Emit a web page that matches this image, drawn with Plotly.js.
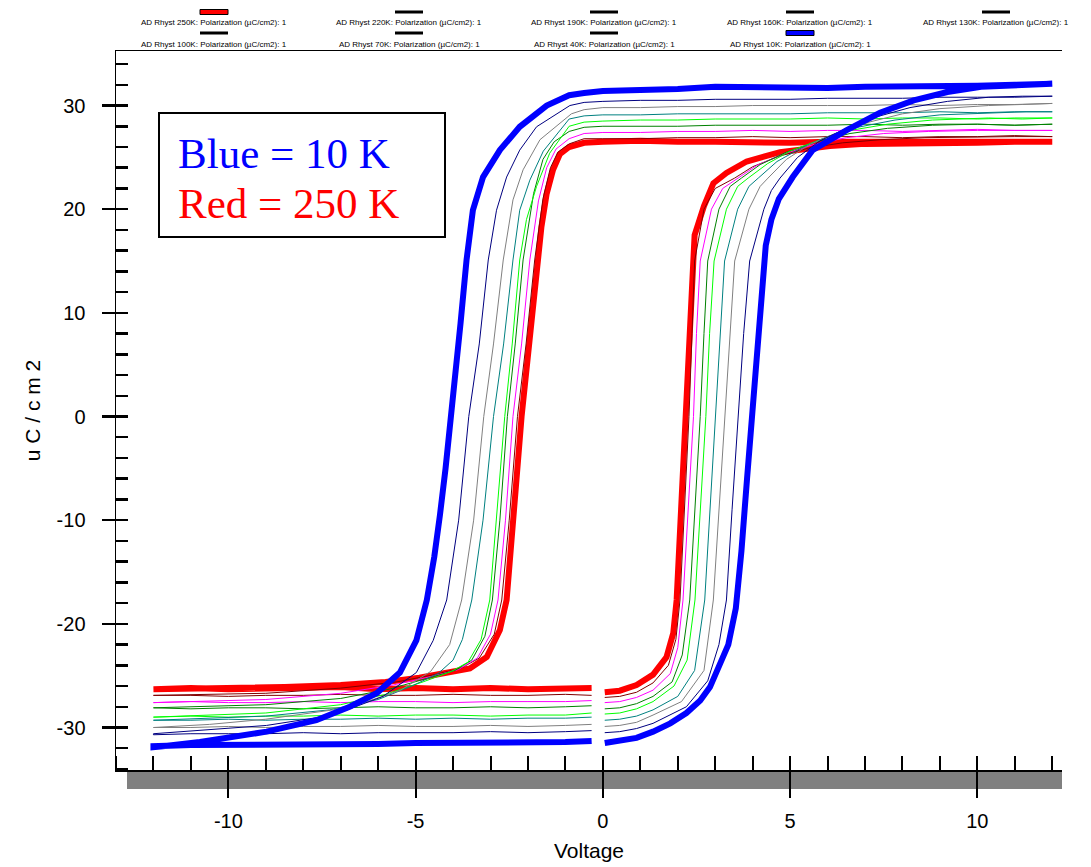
<!DOCTYPE html>
<html>
<head>
<meta charset="utf-8">
<script src="https://cdn.plot.ly/plotly-3.0.1.min.js"></script>
<style>html,body{margin:0;padding:0;background:#fff;}#chart{width:1091px;height:867px;}</style>
</head>
<body>
<div id="chart"></div>
<script>
// ---------------- DATA ----------------
const temperatures = ['250K','220K','190K','160K','130K','100K','70K','40K','10K'];
const seriesColors = ['#ff0000','#800000','#ff00ff','#008000','#00ff00','#008080','#808080','#000080','#0000ff'];
const legendLabels = temperatures.map(t => 'AD Rhyst ' + t + ': Polarization (\u00b5C/cm2): 1');

// tick labels (plain hyphen minus, as in the original)
const xTickVals = [-10, -5, 0, 5, 10];
const xTickText = ['-10', '-5', '0', '5', '10'];
const yTickVals = [-30, -20, -10, 0, 10, 20, 30];
const yTickText = ['-30', '-20', '-10', '0', '10', '20', '30'];

// common voltage grids of the flat return branches
const upV  = [12, 11, 10, 9, 8, 7, 6, 5, 4, 3, 2, 1, 0];
const lowV = [-12, -11, -10, -9, -8, -7, -6, -5, -4, -3, -2, -1, -0.3];

// 250 K
const rise250V = [0.05, 0.45, 0.9, 1.34, 1.7, 1.88, 1.97, 2.08, 2.2, 2.32, 2.45, 2.7, 2.95, 3.3, 3.84, 4.73, 5.5, 6.06, 7.0, 8.0, 9.0, 10.0, 11.0, 12.0];
const rise250P = [-26.6, -26.45, -25.9, -24.9, -23.2, -20.9, -17.7, -9, 0, 9, 17.5, 20.3, 22.5, 23.5, 24.6, 25.5, 25.8, 26.1, 26.3, 26.3, 26.4, 26.4, 26.5, 26.5];
const up250P   = [26.5, 26.6, 26.5, 26.6, 26.5, 26.6, 26.5, 26.4, 26.5, 26.5, 26.5, 26.6, 26.5];
const fall250V = [-0.5, -0.9, -1.15, -1.33, -1.5, -1.64, -1.73, -1.95, -2.17, -2.35, -2.5, -2.57, -2.75, -3.1, -3.55, -4.3, -4.9, -5.8, -7.0, -8.5, -10, -12];
const fall250P = [26.4, 26.0, 25.3, 23.8, 21.5, 18.3, 15.1, 7, 0, -8, -14, -17.7, -20.6, -23.2, -24.3, -24.8, -25.2, -25.6, -25.9, -26.1, -26.2, -26.3];
const low250P  = [-26.3, -26.2, -26.3, -26.2, -26.2, -26.1, -26.3, -26.2, -26.3, -26.2, -26.3, -26.3, -26.2];

// 220 K
const rise220V = [0.05, 0.45, 0.9, 1.34, 1.75, 1.95, 2.06, 2.18, 2.3, 2.38, 2.45, 2.7, 3.0, 3.52, 4.0, 4.7, 5.5, 6.4, 7.4, 8.6, 10.0, 11.0, 12.0];
const rise220P = [-27.1, -27.0, -26.6, -25.7, -24.0, -21.5, -17.7, -9, 0, 8, 15, 20, 22.0, 23.0, 24.1, 25.1, 25.9, 26.4, 26.7, 26.9, 27.0, 27.0, 27.0];
const up220P   = [27.0, 27.1, 27.0, 27.0, 26.9, 27.0, 27.0, 26.9, 27.0, 26.9, 26.9, 26.8, 26.8];
const fall220V = [-0.5, -0.9, -1.2, -1.4, -1.6, -1.82, -2.05, -2.28, -2.5, -2.7, -2.9, -3.3, -3.8, -4.5, -5.5, -7, -9, -12];
const fall220P = [26.8, 26.3, 25.5, 24.0, 21.0, 15.1, 7, 0, -10, -17.7, -21.0, -23.3, -24.3, -24.9, -25.6, -26.2, -26.7, -26.9];
const low220P  = [-26.9, -26.9, -27.0, -26.9, -26.9, -26.8, -26.9, -26.9, -26.8, -26.9, -26.9, -26.8, -26.9];

// 190 K
const rise190V = [0.05, 0.45, 0.9, 1.34, 1.8, 2.0, 2.14, 2.28, 2.42, 2.5, 2.6, 2.9, 3.2, 3.61, 4.1, 4.8, 5.6, 6.5, 7.5, 8.7, 10.0, 11.0, 12.0];
const rise190P = [-27.6, -27.5, -27.1, -26.4, -24.8, -22.3, -17.7, -9, 0, 8, 15, 20, 22.0, 23.0, 24.2, 25.3, 26.2, 26.9, 27.3, 27.5, 27.6, 27.6, 27.6];
const up190P   = [27.6, 27.6, 27.7, 27.6, 27.5, 27.6, 27.6, 27.5, 27.6, 27.5, 27.5, 27.4, 27.4];
const fall190V = [-0.5, -0.9, -1.25, -1.5, -1.72, -1.95, -2.17, -2.4, -2.6, -2.8, -3.0, -3.35, -3.85, -4.6, -5.6, -7, -9, -12];
const fall190P = [27.3, 26.8, 25.8, 24.0, 20.8, 15.1, 7, 0, -10, -17.7, -21.0, -23.3, -24.4, -25.1, -25.9, -26.7, -27.3, -27.6];
const low190P  = [-27.6, -27.5, -27.6, -27.6, -27.5, -27.6, -27.5, -27.5, -27.6, -27.5, -27.5, -27.5, -27.4];

// 160 K
const rise160V = [0.05, 0.45, 0.9, 1.34, 1.85, 2.12, 2.32, 2.46, 2.6, 2.7, 2.8, 3.1, 3.4, 3.7, 4.2, 4.9, 5.7, 6.6, 7.6, 8.8, 10.0, 11.0, 12.0];
const rise160P = [-28.2, -28.1, -27.7, -27.0, -25.6, -23.0, -17.7, -9, 0, 8, 15, 20, 22.2, 23.0, 24.3, 25.5, 26.5, 27.3, 27.8, 28.1, 28.2, 28.1, 28.2];
const up160P   = [28.2, 28.1, 28.2, 28.2, 28.1, 28.2, 28.1, 28.1, 28.1, 28.1, 28.0, 28.0, 28.0];
const fall160V = [-0.5, -0.9, -1.3, -1.6, -1.85, -2.13, -2.34, -2.55, -2.75, -2.95, -3.15, -3.5, -3.95, -4.7, -5.7, -7, -9, -12];
const fall160P = [27.9, 27.5, 26.5, 24.8, 21.5, 15.1, 7, 0, -10, -17.7, -21.2, -23.5, -24.5, -25.3, -26.3, -27.2, -27.8, -28.1];
const low160P  = [-28.1, -28.2, -28.1, -28.1, -28.2, -28.1, -28.0, -28.1, -28.1, -28.0, -28.1, -28.0, -27.9];

// 130 K
const rise130V = [0.05, 0.45, 0.9, 1.34, 1.9, 2.25, 2.46, 2.6, 2.75, 2.85, 2.97, 3.3, 3.6, 3.88, 4.4, 5.0, 5.8, 6.6, 7.6, 8.8, 10.3, 11.2, 12.0];
const rise130P = [-28.7, -28.6, -28.2, -27.5, -26.0, -23.5, -17.7, -9, 0, 8, 15, 20, 22.2, 23.0, 24.4, 25.6, 26.7, 27.6, 28.2, 28.6, 28.8, 28.7, 28.8];
const up130P   = [28.8, 28.8, 28.7, 28.8, 28.8, 28.7, 28.8, 28.7, 28.7, 28.7, 28.6, 28.6, 28.5];
const fall130V = [-0.5, -0.9, -1.42, -1.77, -2.04, -2.22, -2.42, -2.62, -2.85, -3.02, -3.25, -3.6, -4.05, -4.8, -5.8, -7, -9, -12];
const fall130P = [28.4, 28.0, 25.4, 22.2, 19.0, 15.1, 7, 0, -10, -17.7, -21.5, -23.7, -24.6, -25.6, -26.8, -27.8, -28.6, -29.0];
const low130P  = [-29.0, -28.9, -29.0, -28.9, -28.9, -28.8, -28.9, -28.8, -28.8, -28.9, -28.8, -28.8, -28.6];

// 100 K
const rise100V = [0.05, 0.45, 0.9, 1.34, 2.0, 2.45, 2.72, 2.86, 3.0, 3.12, 3.25, 3.6, 3.9, 4.15, 4.65, 5.3, 6.0, 6.8, 7.8, 9.0, 10.5, 11.3, 12.0];
const rise100P = [-29.3, -29.2, -28.9, -28.3, -27.0, -24.5, -17.7, -9, 0, 8, 15, 20, 22.2, 23.0, 24.6, 25.9, 27.0, 27.9, 28.6, 29.1, 29.3, 29.4, 29.4];
const up100P   = [29.4, 29.4, 29.3, 29.4, 29.3, 29.3, 29.3, 29.2, 29.2, 29.2, 29.2, 29.1, 29.1];
const fall100V = [-0.5, -0.9, -1.59, -1.95, -2.22, -2.4, -2.65, -2.92, -3.2, -3.5, -3.75, -4.0, -4.4, -5.1, -6.0, -7.3, -9, -12];
const fall100P = [29.0, 28.7, 25.6, 22.8, 19.9, 15.1, 7, 0, -10, -17.7, -21.5, -23.5, -24.8, -26.0, -27.3, -28.3, -28.9, -29.3];
const low100P  = [-29.3, -29.3, -29.2, -29.3, -29.2, -29.2, -29.1, -29.2, -29.1, -29.2, -29.1, -29.1, -29.0];

// 70 K
const rise70V = [0.05, 0.45, 0.9, 1.34, 2.1, 2.7, 2.95, 3.1, 3.25, 3.38, 3.52, 3.9, 4.2, 4.41, 4.9, 5.5, 6.2, 7.0, 8.0, 9.0, 10.3, 11.2, 12.0];
const rise70P = [-29.9, -29.8, -29.5, -28.8, -27.5, -24.5, -17.7, -9, 0, 8, 15, 20, 22.2, 23.0, 24.8, 26.2, 27.3, 28.3, 29.2, 29.7, 30.0, 30.1, 30.2];
const up70P   = [30.2, 30.1, 30.1, 30.0, 30.1, 30.0, 30.0, 30.0, 30.0, 29.9, 29.9, 29.8, 29.8];
const fall70V = [-0.5, -0.84, -1.68, -2.13, -2.4, -2.66, -2.92, -3.18, -3.45, -3.77, -4.09, -4.6, -5.4, -6.3, -7.2, -9, -10.5, -12];
const fall70P = [29.6, 29.2, 26.7, 23.8, 20.9, 15.1, 7, 0, -10, -17.7, -22.0, -24.6, -26.4, -27.5, -28.3, -29.2, -29.7, -30.0];
const low70P  = [-30.0, -30.0, -29.9, -30.0, -29.9, -29.9, -29.8, -29.9, -29.9, -29.8, -29.9, -29.8, -29.7];

// 40 K
const rise40V = [0.05, 0.45, 0.9, 1.34, 2.23, 2.8, 3.1, 3.3, 3.45, 3.62, 3.76, 3.92, 4.3, 4.5, 4.73, 5.2, 5.8, 6.5, 7.3, 8.2, 9.2, 10.3, 11.2, 12.0];
const rise40P = [-30.5, -30.4, -30.1, -29.6, -28.0, -25.5, -22, -17.7, -9, 0, 8, 15, 20, 21.8, 23.0, 25.0, 26.6, 27.8, 28.9, 29.8, 30.4, 30.8, 30.9, 30.9];
const up40P   = [30.9, 30.8, 30.8, 30.8, 30.7, 30.7, 30.7, 30.6, 30.6, 30.6, 30.5, 30.5, 30.4];
const fall40V = [-0.5, -0.88, -1.77, -2.22, -2.57, -2.84, -3.06, -3.3, -3.58, -3.85, -4.17, -4.53, -4.98, -5.87, -7.2, -8.98, -10.76, -12];
const fall40P = [30.3, 30.0, 27.95, 25.7, 23.1, 19.9, 15.1, 7, 0, -10, -17.7, -21.6, -24.7, -27.0, -28.8, -29.8, -30.3, -30.6];
const low40P  = [-30.7, -30.6, -30.6, -30.6, -30.5, -30.6, -30.5, -30.5, -30.5, -30.4, -30.5, -30.4, -30.3];

// 10 K
const rise10V = [0.05, 0.45, 0.9, 1.34, 1.8, 2.23, 2.6, 2.86, 3.12, 3.35, 3.55, 3.7, 3.85, 3.98, 4.1, 4.22, 4.35, 4.5, 4.7, 5.07, 5.6, 6.5, 7.4, 8.3, 9.2, 10.1, 11.0, 12.0];
const rise10P = [-31.5, -31.3, -31.0, -30.4, -29.6, -28.6, -27.4, -26.1, -24.1, -22.0, -18.5, -13, -6, 0, 6, 12, 16.5, 19.0, 21.0, 23.1, 25.7, 27.6, 29.3, 30.5, 31.3, 31.8, 32.0, 32.1];
const up10P   = [32.1, 32.0, 31.9, 31.9, 31.8, 31.8, 31.7, 31.7, 31.7, 31.8, 31.6, 31.5, 31.4];
const fall10V = [-0.5, -0.9, -1.5, -2.22, -2.75, -3.2, -3.47, -3.64, -3.8, -3.92, -4.05, -4.2, -4.35, -4.5, -4.7, -4.98, -5.42, -6.04, -6.76, -7.65, -8.98, -9.87, -10.76, -11.75, -12];
const fall10P = [31.2, 31.0, 30.0, 27.95, 25.7, 23.1, 19.9, 15.1, 9, 4.5, 0, -5, -9.5, -13.5, -17.7, -21.6, -24.7, -26.7, -28.0, -29.3, -30.4, -30.9, -31.4, -31.8, -31.9];
const low10P  = [-31.8, -31.7, -31.7, -31.6, -31.7, -31.6, -31.6, -31.5, -31.5, -31.5, -31.4, -31.4, -31.3];

// ---------------- BUILD ----------------
const loops = [
  [rise250V, rise250P, up250P, fall250V, fall250P, low250P],
  [rise220V, rise220P, up220P, fall220V, fall220P, low220P],
  [rise190V, rise190P, up190P, fall190V, fall190P, low190P],
  [rise160V, rise160P, up160P, fall160V, fall160P, low160P],
  [rise130V, rise130P, up130P, fall130V, fall130P, low130P],
  [rise100V, rise100P, up100P, fall100V, fall100P, low100P],
  [rise70V,  rise70P,  up70P,  fall70V,  fall70P,  low70P],
  [rise40V,  rise40P,  up40P,  fall40V,  fall40P,  low40P],
  [rise10V,  rise10P,  up10P,  fall10V,  fall10P,  low10P]
];
const thick = t => (t === '250K' || t === '10K');

const traces = loops.map((L, i) => ({
  type: 'scatter', mode: 'lines', name: legendLabels[i],
  x: [].concat(L[0], upV, L[3], lowV),
  y: [].concat(L[1], L[2], L[4], L[5]),
  line: { color: seriesColors[i], width: thick(temperatures[i]) ? 6 : 1 },
  hoverinfo: 'skip', showlegend: false
}));

// pixel -> paper helpers for decorations
const PL = 116, PR = 1062, PT = 51, PB = 770;
const px = X => (X - PL) / (PR - PL);
const py = Y => (PB - Y) / (PB - PT);

const shapes = [];
const annotations = [];

// gray band under the x axis
shapes.push({type:'rect', xref:'paper', yref:'paper', x0:px(127), x1:px(1062), y0:py(789), y1:py(771),
  fillcolor:'#808080', line:{width:0}, layer:'below'});

// text box
shapes.push({type:'rect', xref:'paper', yref:'paper', x0:px(159), x1:px(445), y0:py(237), y1:py(113),
  fillcolor:'rgba(0,0,0,0)', line:{color:'#000', width:2}});
annotations.push({xref:'paper', yref:'paper', x:px(176), y:py(153), xanchor:'left', yanchor:'middle',
  text:'Blue = 10 K', showarrow:false, font:{family:'Liberation Serif, Times New Roman, serif', size:43, color:'#0000ff'}});
annotations.push({xref:'paper', yref:'paper', x:px(176), y:py(204), xanchor:'left', yanchor:'middle',
  text:'Red = 250 K', showarrow:false, font:{family:'Liberation Serif, Times New Roman, serif', size:43, color:'#ff0000'}});

// legend (5 columns, 2 rows)
const colX = [214, 409, 604, 800, 996];
const rowText = [22, 44], rowSwatch = [12, 33];
legendLabels.forEach((lab, i) => {
  const r = Math.floor(i / 5), c = i % 5;
  const xc = colX[c];
  annotations.push({xref:'paper', yref:'paper', x:px(xc), y:py(rowText[r]), xanchor:'center', yanchor:'middle',
    text: lab, showarrow:false, font:{family:'Liberation Sans, Arial, sans-serif', size:8, color:'#000'}});
  if (thick(temperatures[i])) {
    shapes.push({type:'rect', xref:'paper', yref:'paper', x0:px(xc-14), x1:px(xc+14), y0:py(rowSwatch[r]+2.5), y1:py(rowSwatch[r]-2.5),
      fillcolor: seriesColors[i], line:{color:'#000', width:1}});
  } else {
    shapes.push({type:'line', xref:'paper', yref:'paper', x0:px(xc-14), x1:px(xc+14), y0:py(rowSwatch[r]), y1:py(rowSwatch[r]),
      line:{color:'#000', width:3}});
  }
});

const tickFont = {family:'Liberation Sans, Arial, sans-serif', size:20, color:'#000'};
const xRange = [-13.0, 12.26], yRange = [-34.1, 35.26];

const layout = {
  width:1091, height:867,
  margin:{l:PL, r:1091-PR, t:PT, b:867-PB, pad:0},
  paper_bgcolor:'#fff', plot_bgcolor:'#fff',
  showlegend:false,
  xaxis:{range:xRange, autorange:false, showline:true, mirror:true, linecolor:'#000', linewidth:1.5,
    ticks:'outside', ticklen:26, tickwidth:2, tickcolor:'#000',
    tickmode:'array', tickvals:xTickVals, ticktext:xTickText,
    minor:{ticks:'inside', ticklen:14, tickwidth:2, tickcolor:'#000', tickmode:'linear', dtick:1, tick0:0, showgrid:false},
    showgrid:false, zeroline:false, tickfont:tickFont, ticklabelstandoff:6,
    title:{text:'Voltage', font:{family:'Liberation Sans, Arial, sans-serif', size:21, color:'#000'}, standoff:13}},
  xaxis2:{overlaying:'x', anchor:'y', side:'bottom', range:xRange, autorange:false,
    ticks:'inside', ticklen:16, tickwidth:2, tickcolor:'#000', tick0:0, dtick:5,
    showticklabels:false, showline:false, showgrid:false, zeroline:false},
  yaxis:{range:yRange, autorange:false, showline:true, linecolor:'#000', linewidth:1.5,
    ticks:'outside', ticklen:13, tickwidth:2.5, tickcolor:'#000',
    tickmode:'array', tickvals:yTickVals, ticktext:yTickText,
    minor:{ticks:'inside', ticklen:12, tickwidth:2.5, tickcolor:'#000', tickmode:'linear', dtick:2, tick0:0, showgrid:false},
    showgrid:false, zeroline:false, tickfont:tickFont, ticklabelstandoff:12,
    title:{text:'u C / c m 2', font:{family:'Liberation Sans, Arial, sans-serif', size:21, color:'#000'}, standoff:10}},
  yaxis2:{overlaying:'y', anchor:'x', side:'left', range:yRange, autorange:false,
    ticks:'inside', ticklen:12, tickwidth:2.5, tickcolor:'#000', tick0:0, dtick:10,
    showticklabels:false, showline:false, showgrid:false, zeroline:false},
  shapes: shapes,
  annotations: annotations
};

Plotly.newPlot('chart', traces, layout, {staticPlot:true, displayModeBar:false});
</script>
</body>
</html>
